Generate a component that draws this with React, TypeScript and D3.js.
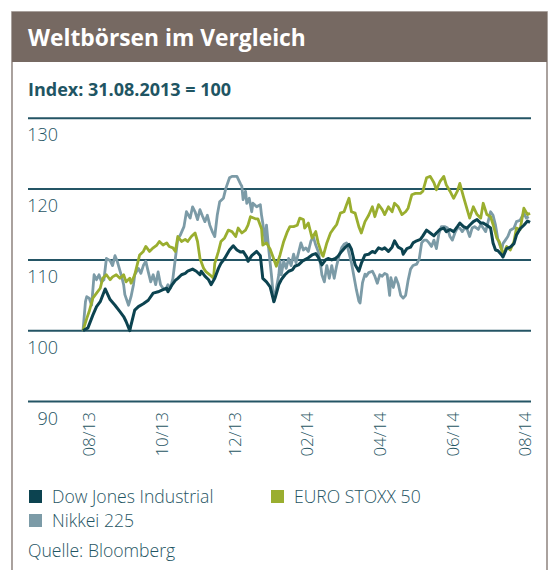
import React from "react";
import * as d3 from "d3";

const title = "Weltbörsen im Vergleich";
const subtitle = "Index: 31.08.2013 = 100";
const source = "Quelle: Bloomberg";
const xLabels = ["08/13", "10/13", "12/13", "02/14", "04/14", "06/14", "08/14"];
const yTicks = [90, 100, 110, 120, 130];
const seriesNames = ["Dow Jones Industrial", "EURO STOXX 50", "Nikkei 225"];

// [days since 30.08.2013, index value]
const dow: [number, number][] = [
  [0, 100.0], [4, 100.4], [8, 102.2], [11, 103.4], [14, 104.1], [18, 105.9], [22, 104.4], [26, 103.6],
  [30, 102.7], [33, 102.0], [35, 101.3], [38, 100.0], [39, 100.8], [42, 102.9], [45, 103.4], [49, 103.8],
  [53, 104.3], [57, 105.3], [61, 105.5], [65, 105.8], [68, 106.0], [69, 105.5], [72, 106.4], [75, 107.1],
  [77, 107.4], [80, 107.9], [83, 108.1], [85, 108.4], [89, 108.7], [92, 108.4], [95, 107.9], [96, 108.4],
  [99, 107.7], [102, 107.2], [104, 106.5], [107, 107.4], [110, 108.8], [112, 109.5], [115, 110.2], [119, 111.4],
  [122, 112.0], [125, 111.4], [128, 111.1], [130, 111.2], [133, 110.4], [134, 109.8], [137, 110.6], [141, 111.2],
  [144, 110.6], [146, 107.4], [149, 106.9], [152, 106.2], [155, 104.1], [156, 104.6], [159, 106.5], [161, 107.2],
  [164, 107.9], [167, 108.4], [170, 108.6], [172, 109.1], [175, 109.3], [178, 109.8], [180, 110.0], [183, 110.3],
  [186, 110.7], [189, 110.9], [191, 110.4], [194, 109.3], [197, 110.0], [199, 110.2], [202, 110.0], [205, 110.2],
  [207, 110.5], [210, 111.2], [213, 111.8], [216, 112.2], [218, 111.5], [221, 109.3], [224, 108.4], [226, 109.5],
  [229, 110.7], [232, 110.8], [235, 111.2], [237, 111.0], [240, 111.7], [243, 111.5], [245, 111.7], [248, 111.2],
  [251, 111.8], [253, 112.7], [256, 111.8], [259, 111.5], [260, 110.8], [263, 111.6], [266, 111.8], [268, 112.4],
  [271, 112.7], [274, 112.9], [276, 113.4], [279, 114.2], [282, 113.8], [285, 113.4], [287, 113.8], [290, 114.3],
  [293, 114.5], [295, 114.0], [298, 114.3], [301, 114.0], [304, 114.7], [306, 115.2], [309, 114.7], [312, 114.5],
  [314, 114.9], [317, 115.4], [320, 115.7], [323, 115.2], [325, 115.2], [328, 114.9], [331, 114.5], [333, 112.4],
  [335, 111.4], [337, 111.3], [340, 110.7], [341, 110.4], [344, 111.6], [347, 111.8], [350, 112.3], [352, 113.5],
  [355, 114.4], [358, 114.9], [361, 115.5], [363, 115.3],
];

const euro: [number, number][] = [
  [0, 100.0], [3, 101.7], [5, 102.7], [8, 104.6], [11, 105.3], [14, 106.0], [16, 107.4], [19, 107.9],
  [22, 107.2], [24, 107.6], [27, 107.9], [30, 107.4], [33, 107.9], [35, 106.9], [38, 107.4], [39, 106.7],
  [42, 107.9], [44, 109.3], [46, 110.7], [49, 111.2], [51, 111.9], [54, 111.2], [57, 111.7], [60, 112.1],
  [62, 112.6], [65, 112.1], [68, 112.4], [70, 111.9], [73, 111.7], [75, 111.2], [77, 113.3], [80, 112.6],
  [83, 112.9], [85, 112.6], [88, 113.3], [91, 113.8], [93, 112.6], [95, 110.2], [98, 108.8], [100, 108.3],
  [103, 107.9], [106, 107.4], [107, 109.5], [110, 111.2], [112, 112.6], [115, 113.1], [118, 114.2], [121, 114.0],
  [124, 113.3], [126, 114.5], [129, 113.8], [132, 114.2], [134, 114.9], [136, 116.1], [140, 115.8], [142, 115.8],
  [145, 114.4], [146, 112.1], [149, 112.4], [152, 111.5], [155, 110.1], [157, 109.1], [160, 110.7], [163, 112.6],
  [166, 114.0], [168, 114.7], [171, 114.7], [174, 114.9], [176, 115.9], [179, 115.7], [180, 114.5], [183, 115.2],
  [186, 113.1], [189, 114.0], [191, 112.4], [194, 110.8], [195, 110.5], [198, 112.4], [201, 113.8], [203, 114.3],
  [206, 115.0], [209, 116.6], [212, 116.8], [214, 117.8], [216, 118.7], [218, 116.8], [221, 116.6], [224, 114.7],
  [226, 113.8], [229, 115.4], [232, 116.3], [235, 117.5], [237, 116.1], [240, 117.8], [243, 117.1], [245, 116.4],
  [248, 117.5], [251, 116.8], [253, 118.0], [256, 117.5], [259, 116.4], [262, 116.8], [264, 117.3], [267, 119.2],
  [270, 119.4], [274, 119.4], [276, 119.7], [279, 121.6], [282, 121.8], [285, 120.9], [287, 119.9], [290, 121.1],
  [293, 121.8], [295, 120.6], [298, 119.7], [301, 118.7], [304, 119.7], [306, 120.8], [309, 118.9], [312, 117.1],
  [314, 115.9], [317, 117.5], [320, 116.4], [323, 115.9], [325, 118.0], [328, 116.4], [331, 116.1], [333, 115.0],
  [336, 113.1], [338, 112.6], [340, 111.4], [341, 110.7], [344, 111.9], [347, 111.4], [350, 112.6], [352, 114.5],
  [355, 114.3], [358, 117.3], [361, 116.4], [363, 116.6],
];

const nikkei: [number, number][] = [
  [0, 100.0], [2, 104.1], [3, 104.8], [5, 104.6], [7, 103.6], [9, 107.9], [11, 107.2], [13, 107.9],
  [15, 106.9], [17, 107.2], [19, 110.2], [22, 109.9], [24, 109.2], [26, 110.6], [28, 109.7], [31, 107.9],
  [33, 106.5], [34, 105.1], [37, 103.6], [39, 104.8], [41, 106.5], [42, 107.9], [45, 108.8], [47, 108.1],
  [49, 109.2], [51, 109.8], [53, 108.3], [55, 106.9], [57, 107.9], [59, 106.5], [61, 108.3], [63, 106.5],
  [65, 106.0], [67, 105.8], [69, 106.5], [71, 106.0], [73, 107.4], [75, 110.2], [77, 113.0], [79, 113.5],
  [82, 114.7], [84, 116.8], [87, 115.9], [89, 117.5], [91, 116.8], [93, 115.7], [95, 117.1], [97, 116.2],
  [99, 115.4], [101, 116.3], [103, 114.9], [105, 114.0], [107, 113.3], [109, 116.3], [111, 118.2], [114, 118.7],
  [116, 120.1], [119, 121.6], [121, 121.8], [125, 121.8], [128, 120.7], [129, 120.4], [130, 118.5], [132, 119.7],
  [133, 118.0], [135, 118.7], [137, 116.8], [138, 118.0], [141, 117.5], [144, 117.8], [145, 116.3], [146, 115.2],
  [148, 112.6], [149, 114.9], [151, 111.2], [153, 107.9], [155, 104.1], [157, 106.0], [159, 107.9], [160, 109.8],
  [161, 107.9], [163, 109.8], [165, 108.8], [167, 110.2], [169, 109.2], [171, 110.8], [173, 109.6], [175, 111.0],
  [177, 112.4], [179, 111.4], [181, 111.7], [183, 111.2], [185, 112.6], [187, 113.3], [189, 112.1], [191, 111.2],
  [193, 109.2], [194, 107.9], [196, 106.9], [198, 109.2], [200, 107.4], [202, 109.2], [204, 107.4], [206, 109.2],
  [208, 110.6], [210, 111.7], [212, 112.2], [214, 112.4], [216, 111.0], [218, 109.6], [220, 107.7], [222, 105.8],
  [224, 104.2], [225, 103.9], [227, 106.8], [229, 108.0], [230, 107.7], [232, 108.2], [235, 108.4], [237, 107.7],
  [239, 106.7], [241, 107.9], [243, 107.7], [245, 108.1], [247, 107.9], [249, 105.0], [250, 107.5], [252, 106.1],
  [254, 107.5], [256, 106.6], [258, 105.0], [260, 104.6], [262, 105.0], [264, 107.1], [266, 108.7], [268, 109.2],
  [271, 109.4], [273, 110.1], [275, 112.4], [277, 112.8], [279, 112.8], [281, 112.4], [283, 111.9], [285, 112.8],
  [287, 111.6], [289, 113.7], [291, 114.7], [294, 114.7], [296, 114.5], [298, 113.3], [300, 112.8], [302, 113.8],
  [304, 114.5], [306, 114.5], [308, 114.0], [310, 114.5], [312, 114.3], [314, 113.3], [316, 114.5], [318, 114.7],
  [321, 114.3], [323, 115.0], [325, 114.5], [327, 114.0], [329, 115.4], [331, 116.8], [333, 116.3], [335, 114.9],
  [337, 112.8], [340, 111.4], [341, 112.3], [343, 112.8], [345, 113.3], [347, 114.2], [350, 114.5], [352, 115.4],
  [355, 115.6], [358, 116.6], [360, 115.9], [362, 116.1],
];

const START = new Date(2013, 7, 30);
const COLORS = { dow: "#0c4350", euro: "#9aae2f", nikkei: "#7c9ba7" };
const TEXT = "#1f5563";
const GRID = "#245565";
const FONT = "'Open Sans', 'Noto Sans', sans-serif";

export default function App() {
  const W = 551, H = 570;
  const x = d3.scaleTime().domain([START, d3.timeDay.offset(START, 363)]).range([83, 530]);
  const y = d3.scaleLinear().domain([90, 130]).range([401.5, 118.3]);
  const xl = d3.scalePoint<string>().domain(xLabels).range([89.3, 525]);
  const line = d3
    .line<[number, number]>()
    .x((d) => x(d3.timeDay.offset(START, d[0])))
    .y((d) => y(d[1]))
    .curve(d3.curveLinear);

  const series = [
    { key: "nikkei", data: nikkei, color: COLORS.nikkei, w: 2.8 },
    { key: "euro", data: euro, color: COLORS.euro, w: 2.8 },
    { key: "dow", data: dow, color: COLORS.dow, w: 3 },
  ];

  const legend = [
    { name: seriesNames[0], color: COLORS.dow, lx: 29, ly: 490 },
    { name: seriesNames[1], color: COLORS.euro, lx: 271, ly: 490 },
    { name: seriesNames[2], color: COLORS.nikkei, lx: 29, ly: 514 },
  ];

  return (
    <svg
      width={W}
      height={H}
      style={{ position: "absolute", left: 0, top: 0, background: "#fff" }}
      fontFamily={FONT}
    >
      <rect x={12} y={12} width={535} height={580} fill="#fff" stroke="#958b86" strokeWidth={1.6} />
      <rect x={12} y={12} width={535} height={50} fill="#766962" />
      <text x={28} y={46} fill="#fff" fontSize={22.8} fontWeight={700}>
        {title}
      </text>
      <text x={28} y={96} fill={TEXT} fontSize={18} fontWeight={700}>
        {subtitle}
      </text>

      {yTicks.map((t) => (
        <g key={t}>
          <line x1={28} x2={531} y1={y(t)} y2={y(t)} stroke={GRID} strokeWidth={2} />
          <text x={58} y={y(t) + 23} textAnchor="end" fill={TEXT} fontSize={18} fontWeight={300}>
            {t}
          </text>
        </g>
      ))}

      {xLabels.map((l) => (
        <text
          key={l}
          transform={`translate(${xl(l)},412) rotate(-90)`}
          textAnchor="end"
          dy="0.36em"
          fill={TEXT}
          fontSize={17}
          fontWeight={300}
        >
          {l}
        </text>
      ))}

      {series.map((s) => (
        <path
          key={s.key}
          d={line(s.data) || ""}
          fill="none"
          stroke={s.color}
          strokeWidth={s.w}
          strokeLinejoin="round"
        />
      ))}

      {legend.map((l) => (
        <g key={l.name}>
          <rect x={l.lx} y={l.ly} width={13} height={13} fill={l.color} />
          <text x={l.lx + 23} y={l.ly + 13} fill={TEXT} fontSize={17.6} fontWeight={300}>
            {l.name}
          </text>
        </g>
      ))}
      <text x={28} y={557} fill={TEXT} fontSize={17.6} fontWeight={300}>
        {source}
      </text>
    </svg>
  );
}
